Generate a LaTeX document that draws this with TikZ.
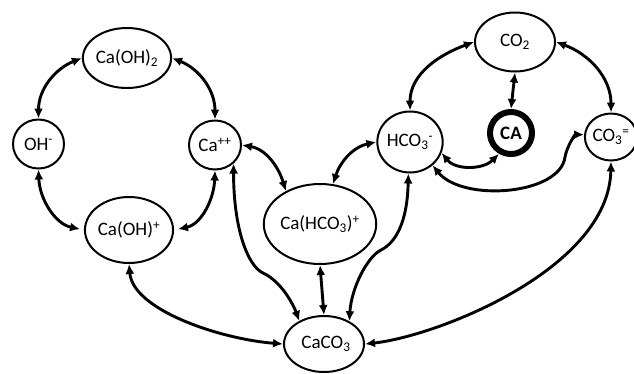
\documentclass[tikz,border=0pt]{standalone}
\usepackage{fontspec}
\setmainfont{Carlito}
\usetikzlibrary{arrows.meta,shapes.geometric}
\begin{document}
\begin{tikzpicture}[x=1pt,y=1pt,
  species/.style={ellipse,draw,line width=2pt,inner sep=0pt,font=\fontsize{19}{21}\selectfont},
  arr/.style={line width=2.9pt,{Latex[length=10pt,width=9pt]}-{Latex[length=10pt,width=9pt]}}]
\useasboundingbox (0,0) rectangle (634,-373);
% nodes
\node[species,minimum width=78pt,minimum height=60pt] (caoh2) at (127,-58) {Ca(OH)\textsubscript{2}};
\node[species,minimum width=51pt,minimum height=49pt] (oh) at (38.5,-144) {OH\textsuperscript{-}};
\node[species,minimum width=52pt,minimum height=49pt] (capp) at (215,-145) {Ca\textsuperscript{++}};
\node[species,minimum width=70pt,minimum height=66pt] (caoh1) at (129,-230) {Ca(OH)\textsuperscript{+}};
\node[species,minimum width=86pt,minimum height=80pt] (cahco3) at (320,-224) {Ca(HCO\textsubscript{3})\textsuperscript{+}};
\node[species,minimum width=80pt,minimum height=56pt] (caco3) at (324,-344) {\hspace{4pt}CaCO\textsubscript{3}};
\node[species,minimum width=64pt,minimum height=61pt] (hco3) at (410,-142) {HCO\textsubscript{3}\textsuperscript{-}};
\node[species,minimum width=80pt,minimum height=59pt] (co2) at (515,-42) {CO\textsubscript{2}};
\node[circle,draw,line width=6pt,inner sep=0pt,minimum size=42pt,font=\fontsize{19}{21}\selectfont\bfseries] (ca) at (511,-133) {CA};
\node[species,minimum width=44pt,minimum height=47pt] (co3) at (611,-137) {CO\textsubscript{3}\textsuperscript{=}};
% bend points
\coordinate (k1) at (263,-273);
\coordinate (k2) at (381,-250);
\coordinate (k3) at (565,-157);
% connectors
\draw[arr] (caoh2.west) to[out=202,in=90] (oh.north);
\draw[arr] (caoh2.east) to[out=-22,in=90] (capp.north);
\draw[arr,shorten >=4pt] (oh.south) to[out=-88,in=168] (caoh1.west);
\draw[arr,shorten >=4pt] (capp.south) to[out=-92,in=12] (caoh1.east);
\draw[arr] (capp.east) to[out=-10,in=107] (cahco3.136);
\draw[arr] (capp.-45) .. controls +(0,-66) and +(-15,7) .. (k1) .. controls +(19.5,-9) and +(-5,14) .. (caco3.137);
\draw[arr] (cahco3.south) -- (caco3.north);
\draw[arr] (hco3.west) to[out=192,in=72] (cahco3.72);
\draw[arr] (hco3.-93) .. controls +(-1,-50) and +(14,7) .. (k2) .. controls +(-14,-7) and +(2,33) .. (caco3.42);
\draw[arr] (co2.west) to[out=200,in=90] (hco3.north);
\draw[arr] (co2.east) to[out=-20,in=90] (co3.north);
\draw[arr] (co2.south) -- (ca.north);
\draw[arr] (hco3.-19) to[out=-51,in=-135] (ca.-120);
\draw[arr] (hco3.-46) .. controls +(30,-37) and +(-5,-38) .. (k3) .. controls +(2,11) and +(-9,0) .. (co3.175);
\draw[arr] (co3.south) .. controls +(-2,-107) and +(73,8) .. (caco3.east);
\draw[arr] (caoh1.south) .. controls +(4,-46) and +(-63,5) .. (caco3.west);
\end{tikzpicture}
\end{document}
